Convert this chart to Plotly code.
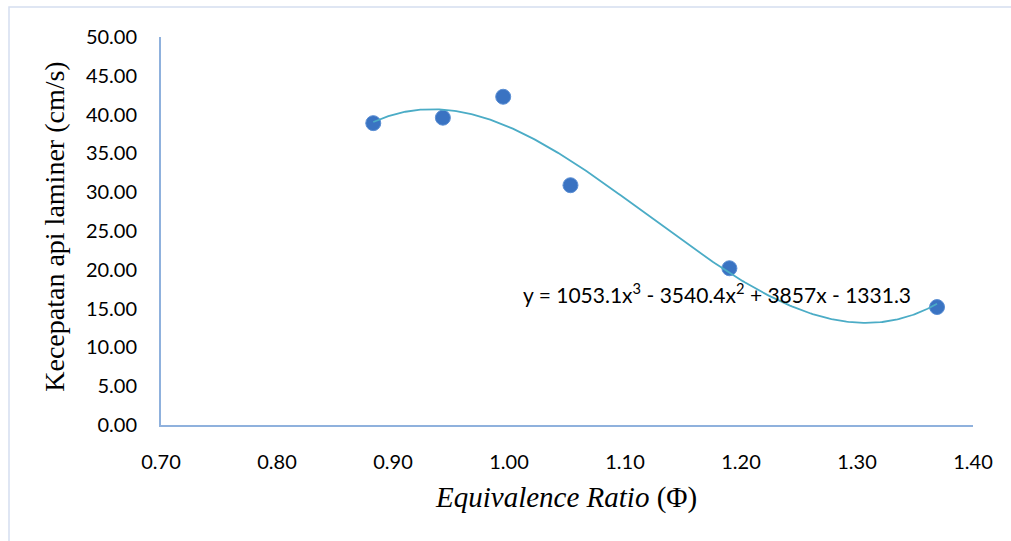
import numpy as np
import plotly.graph_objects as go

# Data
phi = [0.883, 0.943, 0.995, 1.053, 1.190, 1.369]
speed = [38.9, 39.6, 42.3, 30.9, 20.2, 15.2]

# Trendline coefficients (as printed on the chart), highest power first
coeffs = [1053.1, -3540.4, 3857.0, -1331.3]
equation_text = "y = 1053.1x<sup>3</sup> - 3540.4x<sup>2</sup> + 3857x - 1331.3"

x_ticks = [0.70, 0.80, 0.90, 1.00, 1.10, 1.20, 1.30, 1.40]
y_ticks = [0, 5, 10, 15, 20, 25, 30, 35, 40, 45, 50]

xs = np.linspace(min(phi), max(phi), 300)
ys = np.polyval(coeffs, xs)

fig = go.Figure()
fig.add_trace(go.Scatter(
    x=phi, y=speed, mode="markers",
    marker=dict(size=15, color="#3a73c2", line=dict(color="#5b8fd4", width=1)),
    showlegend=False, cliponaxis=False,
))
fig.add_trace(go.Scatter(
    x=xs, y=ys, mode="lines",
    line=dict(color="#4bacc6", width=1.8),
    showlegend=False, hoverinfo="skip",
))

tick_font = dict(family="Lato, Noto Sans, sans-serif", size=20, color="#000000")

fig.update_layout(
    width=1011, height=541,
    margin=dict(l=161, r=38, t=37, b=116),
    paper_bgcolor="white", plot_bgcolor="white",
    xaxis=dict(
        range=[0.70, 1.40], tickvals=x_ticks,
        ticktext=[f"{v:.2f}" for v in x_ticks],
        showgrid=False, zeroline=False,
        showline=True, linecolor="#8fb1dd", linewidth=2,
        ticks="", tickfont=tick_font, ticklabelstandoff=18,
    ),
    yaxis=dict(
        range=[0, 50], tickvals=y_ticks,
        ticktext=[f"{v:.2f}" for v in y_ticks],
        showgrid=False, zeroline=False,
        showline=True, linecolor="#8fb1dd", linewidth=2,
        ticks="", tickfont=tick_font, ticklabelstandoff=18,
    ),
    shapes=[dict(
        type="rect", xref="paper", yref="paper",
        x0=-0.1872, x1=2.0, y0=-2.0, y1=1.0773,
        line=dict(color="#d5def0", width=1.5), fillcolor="rgba(0,0,0,0)",
        layer="below",
    )],
    annotations=[
        dict(
            text=equation_text, x=1.179, y=17.0, xref="x", yref="y",
            showarrow=False, font=dict(family="Lato, Noto Sans, sans-serif", size=21, color="#000000"),
        ),
        dict(
            text="Kecepatan api laminer (cm/s)", textangle=-90,
            x=-0.1315, y=0.5116, xref="paper", yref="paper",
            xanchor="center", yanchor="middle", showarrow=False,
            font=dict(family="Liberation Serif, Times New Roman, serif", size=28, color="#000000"),
        ),
        dict(
            text="<i>Equivalence Ratio</i> (Φ)",
            x=0.499, y=-0.186, xref="paper", yref="paper",
            xanchor="center", yanchor="middle", showarrow=False,
            font=dict(family="Liberation Serif, Times New Roman, serif", size=29, color="#000000"),
        ),
    ],
)

fig.write_html("out.html")
